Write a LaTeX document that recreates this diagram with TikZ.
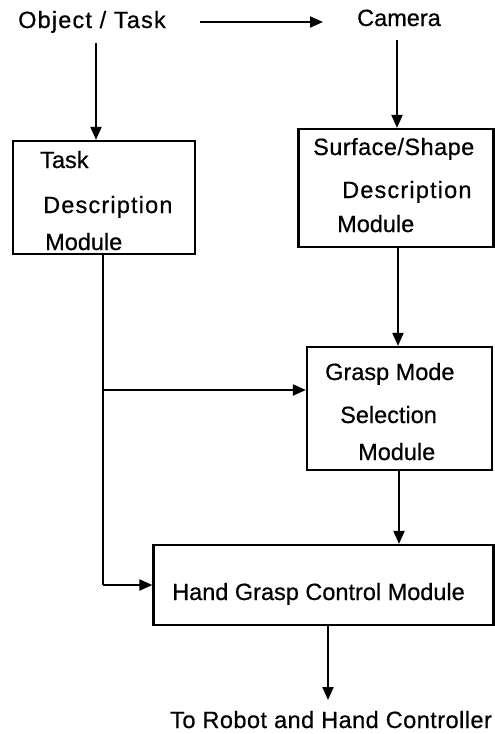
\documentclass[tikz,border=0pt]{standalone}
\usepackage{fontspec}
\setmainfont{Liberation Sans}[FakeBold=0.6]
\newfontfamily\widefont{Liberation Sans}[LetterSpace=5,FakeBold=0.6]
\newfontfamily\semiwidefont{Liberation Sans}[LetterSpace=2,FakeBold=0.6]
\usetikzlibrary{arrows.meta}
\begin{document}
\begin{tikzpicture}[x=1pt,y=-1pt,
  box/.style={draw,line width=2.2pt,inner sep=0pt,minimum width=#1},
  txt/.style={inner sep=0pt,anchor=base west,font=\fontsize{23.5}{28}\selectfont},
  wtxt/.style={txt,font=\widefont\fontsize{23.5}{28}\selectfont},
  stxt/.style={txt,font=\semiwidefont\fontsize{23.5}{28}\selectfont},
  arr/.style={line width=2pt,-{Triangle[length=13pt,width=11pt]}},
  ln/.style={line width=2pt}]
\useasboundingbox (0,0) rectangle (495,734);
% boxes
\node[box=182pt,minimum height=113pt] (task) at (104,197.5) {};
\node[box=195pt,minimum height=118pt] (surf) at (396,188) {};
\node[box=185pt,minimum height=123pt] (grasp) at (399.5,408.5) {};
\node[box=340pt,minimum height=80pt] (hand) at (323.5,585) {};
% texts
\node[wtxt] (obj) at (18,28) {Object / Task};
\node[txt] (cam) at (357,26) {Camera};
\node[txt] (t1) at (40,168) {Task};
\node[wtxt] (t2) at (43,213) {Description};
\node[txt] (t3) at (45,250) {Module};
\node[stxt] (s1) at (313,155) {Surface/Shape};
\node[wtxt] (s2) at (342,198) {Description};
\node[txt] (s3) at (337,232) {Module};
\node[txt] (g1) at (325,380) {Grasp Mode};
\node[txt] (g2) at (340,423) {Selection};
\node[txt] (g3) at (358,460) {Module};
\node[txt] (h1) at (172,600) {Hand Grasp Control Module};
\node[stxt] (out) at (170,728) {To Robot and Hand Controller};
% connector points
\coordinate (objR) at (200,22);
\coordinate (camL) at (323,22);
\coordinate (objD) at (96,43);
\coordinate (camD) at (397,40);
\coordinate (tb) at (103,254);
\coordinate (j1) at (103,390);
\coordinate (j2) at (103,585);
\coordinate (outT) at (328,700);
% connectors
\draw[arr] (objR) -- (camL);
\draw[arr] (objD) -- (objD |- task.north);
\draw[arr] (camD) -- (camD |- surf.north);
\draw[arr] (surf.south -| 398,0) -- (grasp.north -| 398,0);
\draw[ln] (tb) -- (j2);
\draw[arr] (j1) -- (j1 -| grasp.west);
\draw[arr] (j2) -- (j2 -| hand.west);
\draw[arr] (grasp.south -| 399,0) -- (hand.north -| 399,0);
\draw[arr] (hand.south -| outT) -- (outT);
\end{tikzpicture}
\end{document}
